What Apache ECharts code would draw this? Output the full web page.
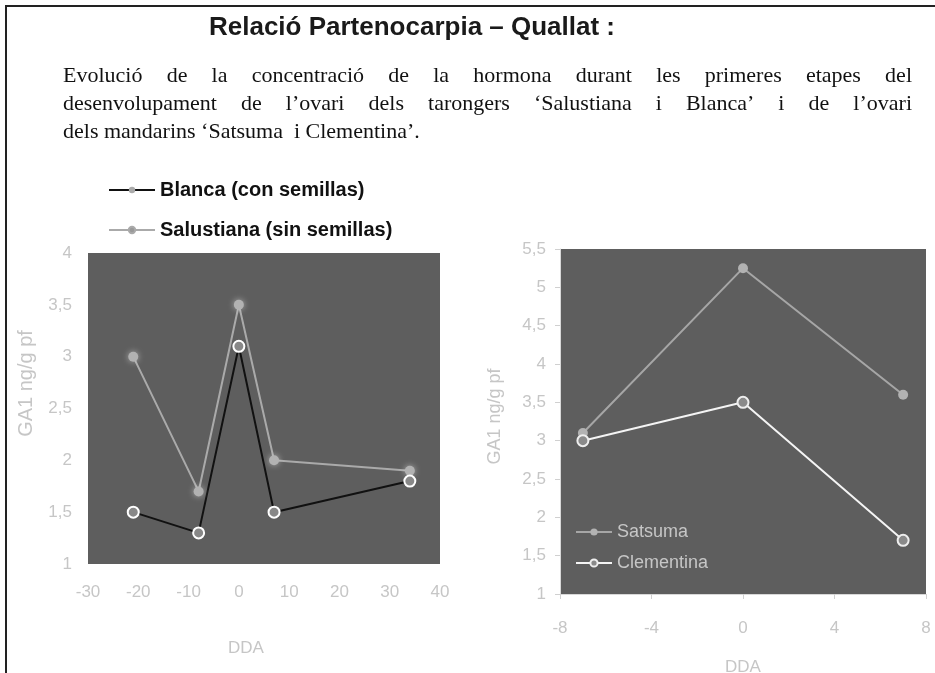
<!DOCTYPE html>
<html>
<head>
<meta charset="utf-8">
<script src="https://cdn.jsdelivr.net/npm/echarts@6/dist/echarts.min.js"></script>
<style>
  html, body { margin: 0; padding: 0; background: #fff; }
  #main { width: 935px; height: 673px; }
</style>
</head>
<body>
<div id="main"></div>
<script>
// left chart: naranjos
var ddaLeft = [-21, -8, 0, 7, 34];
var blanca = [1.5, 1.3, 3.1, 1.5, 1.8];
var salustiana = [3.0, 1.7, 3.5, 2.0, 1.9];
// right chart: mandarinos
var ddaRight = [-7, 0, 7];
var satsuma = [3.1, 5.25, 3.6];
var clementina = [3.0, 3.5, 1.7];

var titleText = 'Relació Partenocarpia – Quallat :';
var paraLines = [
    'Evolució de la concentració de la hormona durant les primeres etapes del',
    'desenvolupament de l’ovari dels tarongers ‘Salustiana i Blanca’ i de l’ovari',
    'dels mandarins ‘Satsuma  i Clementina’.'
];

var chart = echarts.init(document.getElementById('main'));

var axisGrey = '#c6c6c6';
var sans = '"Liberation Sans", Arial, sans-serif';
var serif = '"Liberation Serif", "Times New Roman", serif';

function comma(v) {
    return String(v).replace('.', ',');
}

function pairs(xs, ys) {
    var out = [];
    for (var i = 0; i < xs.length; i++) {
        out.push([xs[i], ys[i]]);
    }
    return out;
}

// justified paragraph: words spread over the line width
var paraFont = '22px ' + serif;
var ctx = document.createElement('canvas').getContext('2d');
ctx.font = paraFont;
var paraX0 = 63, paraX1 = 912, paraY0 = 76, paraStep = 28;
var graphics = [];
paraLines.forEach(function (line, li) {
    var y = paraY0 + li * paraStep;
    var last = li === paraLines.length - 1;
    if (last) {
        graphics.push({
            type: 'text', x: paraX0, y: y,
            style: { text: line, font: paraFont, fill: '#111', textVerticalAlign: 'middle' }
        });
        return;
    }
    var words = line.split(' ');
    var widths = words.map(function (w) { return ctx.measureText(w).width; });
    var total = widths.reduce(function (a, b) { return a + b; }, 0);
    var gap = (paraX1 - paraX0 - total) / (words.length - 1);
    var x = paraX0;
    words.forEach(function (w, wi) {
        graphics.push({
            type: 'text', x: x, y: y,
            style: { text: w, font: paraFont, fill: '#111', textVerticalAlign: 'middle' }
        });
        x += widths[wi] + gap;
    });
});

graphics.push({
    type: 'text', x: 412, y: 28,
    style: { text: titleText, font: 'bold 26px ' + sans, fill: '#1a1a1a',
        textAlign: 'center', textVerticalAlign: 'middle' }
});
// frame
graphics.push({ type: 'line', shape: { x1: 5, y1: 6, x2: 935, y2: 6 },
    style: { stroke: '#222', lineWidth: 2 } });
graphics.push({ type: 'line', shape: { x1: 6, y1: 5, x2: 6, y2: 673 },
    style: { stroke: '#222', lineWidth: 2 } });

option = {
    animation: false,
    backgroundColor: '#fff',
    graphic: graphics,
    legend: [
        {
            orient: 'vertical',
            left: 103,
            top: 175,
            itemGap: 20,
            itemWidth: 46,
            itemHeight: 8,
            textStyle: { fontFamily: sans, fontSize: 20, fontWeight: 'bold', color: '#111' },
            data: [
                { name: 'Blanca (con semillas)', itemStyle: { color: '#aaa', borderWidth: 0 }, lineStyle: { color: '#111', width: 2 } },
                { name: 'Salustiana (sin semillas)', itemStyle: { color: '#999', borderColor: '#aaa', borderWidth: 2 }, lineStyle: { color: '#aaa', width: 2 } }
            ]
        },
        {
            orient: 'vertical',
            left: 570,
            top: 518,
            itemGap: 13,
            itemWidth: 36,
            itemHeight: 9,
            textStyle: { fontFamily: sans, fontSize: 18, color: axisGrey },
            data: ['Satsuma', 'Clementina']
        }
    ],
    grid: [
        { left: 88, top: 253, width: 352, height: 311, show: true, backgroundColor: '#5e5e5e', borderWidth: 0,
          containLabel: false, outerBoundsMode: 'none' },
        { left: 560, top: 249, width: 366, height: 345, show: true, backgroundColor: '#5e5e5e', borderWidth: 0,
          containLabel: false, outerBoundsMode: 'none' }
    ],
    xAxis: [
        {
            gridIndex: 0, type: 'value', min: -30, max: 40, interval: 10,
            axisLine: { show: false }, axisTick: { show: false }, splitLine: { show: false },
            axisLabel: { margin: 20, color: axisGrey, fontSize: 17, fontFamily: sans },
            name: 'DDA', nameLocation: 'middle', nameGap: 76,
            nameTextStyle: { color: axisGrey, fontSize: 17, fontFamily: sans, padding: [0, 36, 0, 0] }
        },
        {
            gridIndex: 1, type: 'value', min: -8, max: 8, interval: 4,
            axisLine: { show: true, onZero: false, lineStyle: { color: '#d8d8d8' } },
            axisTick: { show: true, length: 5, lineStyle: { color: '#d0d0d0' } },
            splitLine: { show: false },
            axisLabel: { margin: 26, color: axisGrey, fontSize: 17, fontFamily: sans },
            name: 'DDA', nameLocation: 'middle', nameGap: 65,
            nameTextStyle: { color: axisGrey, fontSize: 17, fontFamily: sans }
        }
    ],
    yAxis: [
        {
            gridIndex: 0, type: 'value', min: 1, max: 4, interval: 0.5,
            axisLine: { show: false }, axisTick: { show: false }, splitLine: { show: false },
            axisLabel: { margin: 16, color: axisGrey, fontSize: 17, fontFamily: sans, formatter: comma },
            name: 'GA1 ng/g pf', nameLocation: 'middle', nameGap: 52,
            nameTextStyle: { color: axisGrey, fontSize: 20, fontFamily: sans, padding: [0, 0, 0, 50] }
        },
        {
            gridIndex: 1, type: 'value', min: 1, max: 5.5, interval: 0.5,
            axisLine: { show: true, onZero: false, lineStyle: { color: '#d8d8d8' } },
            axisTick: { show: true, length: 5, lineStyle: { color: '#d0d0d0' } },
            splitLine: { show: false },
            axisLabel: { margin: 14, color: axisGrey, fontSize: 17, fontFamily: sans, formatter: comma },
            name: 'GA1 ng/g pf', nameLocation: 'middle', nameGap: 56,
            nameTextStyle: { color: axisGrey, fontSize: 18, fontFamily: sans, padding: [0, 0, 0, 10] }
        }
    ],
    series: [
        {
            name: 'Salustiana (sin semillas)', type: 'line', xAxisIndex: 0, yAxisIndex: 0,
            data: pairs(ddaLeft, salustiana),
            symbol: 'circle', symbolSize: 10,
            lineStyle: { color: '#aaa', width: 2 },
            itemStyle: { color: '#b2b2b2', shadowColor: 'rgba(255,255,255,0.5)', shadowBlur: 6 }
        },
        {
            name: 'Blanca (con semillas)', type: 'line', xAxisIndex: 0, yAxisIndex: 0,
            data: pairs(ddaLeft, blanca),
            symbol: 'circle', symbolSize: 11,
            lineStyle: { color: '#111', width: 2 },
            itemStyle: { color: '#888', borderColor: '#fff', borderWidth: 2 }
        },
        {
            name: 'Satsuma', type: 'line', xAxisIndex: 1, yAxisIndex: 1,
            data: pairs(ddaRight, satsuma),
            symbol: 'circle', symbolSize: 10,
            lineStyle: { color: '#a6a6a6', width: 2 },
            itemStyle: { color: '#b2b2b2' }
        },
        {
            name: 'Clementina', type: 'line', xAxisIndex: 1, yAxisIndex: 1,
            data: pairs(ddaRight, clementina),
            symbol: 'circle', symbolSize: 11,
            lineStyle: { color: '#f4f4f4', width: 2 },
            itemStyle: { color: '#8a8a8a', borderColor: '#eee', borderWidth: 2 }
        }
    ]
};

chart.setOption(option);
</script>
</body>
</html>
